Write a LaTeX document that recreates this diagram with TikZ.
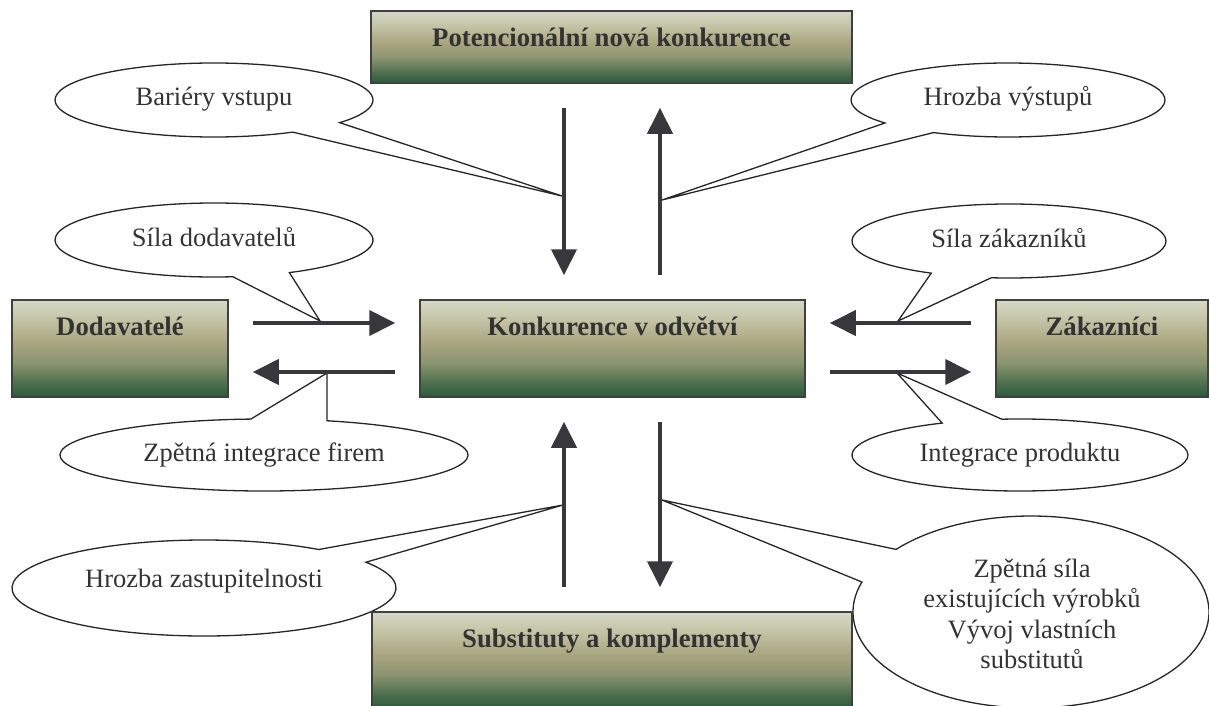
\documentclass[tikz,border=0pt]{standalone}
\usepackage{fontspec}
\setmainfont{Liberation Serif}
\usetikzlibrary{arrows.meta,calc}
\definecolor{ink}{HTML}{333333}
\definecolor{edge}{HTML}{404040}
\definecolor{flowc}{HTML}{38383C}
\definecolor{g0}{HTML}{2C5A3C}
\definecolor{g1}{HTML}{4F7050}
\definecolor{g2}{HTML}{8A9470}
\definecolor{g3}{HTML}{A8A57E}
\definecolor{g4}{HTML}{C4C4A6}
\definecolor{g5}{HTML}{D6D8C6}
% green-to-khaki-to-pale fill of the force boxes (path spans 25bp..75bp)
\pgfdeclareverticalshading{forceshade}{100bp}{%
  color(0bp)=(g0); color(25bp)=(g0); color(32.5bp)=(g1); color(42.5bp)=(g2);
  color(52.5bp)=(g3); color(65bp)=(g4); color(75bp)=(g5); color(100bp)=(g5)}
\begin{document}
\begin{tikzpicture}[x=1pt,y=-1pt,
  force/.style={draw=edge, line width=1.5pt, shading=forceshade, inner sep=0pt},
  title/.style={font=\fontsize{26.7}{30}\selectfont\bfseries, text=ink, anchor=base},
  flow/.style={draw=flowc, line width=4pt, -{Triangle[length=26pt,width=25pt]},
    shorten <=24pt, shorten >=24pt},
  bubble/.style={draw=black!85, line width=1.3pt, fill=white, line join=miter},
  bubtext/.style={font=\fontsize{26.5}{30.5}\selectfont, text=ink, align=center,
    inner sep=0pt},
  oneline/.style={text height=18pt, text depth=6pt}]
\useasboundingbox (0,0) rectangle (1209,706);

% callout centres
\coordinate (c1) at (214,100);
\coordinate (c2) at (1008,100);
\coordinate (c3) at (214,240);
\coordinate (c4) at (1009,241);
\coordinate (c5) at (264,455);
\coordinate (c6) at (1020,455);
\coordinate (c7) at (204,588);
\coordinate (c8) at (1031,612);

% pointer tips on the flows
\coordinate (t1) at (562,196);
\coordinate (t2) at (662,200);
\coordinate (t3) at (320,321);
\coordinate (t4) at (898,321);
\coordinate (t5) at (327,373);
\coordinate (t6) at (897,373);
\coordinate (t7) at (563,505);
\coordinate (t8) at (662,500);

% callout outlines: ellipse opened where the pointer joins it
\draw[bubble] ($(c1)+(60.3:159 and 37)$) arc[start angle=60.3, end angle=397.8, x radius=159, y radius=37] -- (t1) -- cycle;
\draw[bubble] ($(c2)+(141.6:157 and 37)$) arc[start angle=141.6, end angle=478.3, x radius=157, y radius=37] -- (t2) -- cycle;
\draw[bubble] ($(c3)+(83.2:159 and 37)$) arc[start angle=83.2, end angle=421.7, x radius=159, y radius=37] -- (t3) -- cycle;
\draw[bubble] ($(c4)+(119.7:157 and 37)$) arc[start angle=119.7, end angle=456.5, x radius=157, y radius=37] -- (t4) -- cycle;
\draw[bubble] ($(c5)+(-72:204 and 36)$) arc[start angle=-72, end angle=266.3, x radius=204, y radius=36] -- (t5) -- cycle;
\draw[bubble] ($(c6)+(263.8:168 and 36)$) arc[start angle=263.8, end angle=602.4, x radius=168, y radius=36] -- (t6) -- cycle;
\draw[bubble] ($(c7)+(-32.5:192 and 48)$) arc[start angle=-32.5, end angle=306.7, x radius=192, y radius=48] -- (t7) -- cycle;
\draw[bubble] ($(c8)+(220.7:178 and 96)$) arc[start angle=220.7, end angle=558.2, x radius=178, y radius=96] -- (t8) -- cycle;

% callout texts
\node[bubtext, oneline] (e1) at (c1) {Bariéry vstupu};
\node[bubtext, oneline] (e2) at (c2) {Hrozba výstupů};
\node[bubtext, oneline] (e3) at (c3) {Síla dodavatelů};
\node[bubtext, oneline] (e4) at (c4) {Síla zákazníků};
\node[bubtext, oneline] (e5) at (c5) {Zpětná integrace firem};
\node[bubtext, oneline] (e6) at (c6) {Integrace produktu};
\node[bubtext, oneline] (e7) at ($(c7)+(0,-7)$) {Hrozba zastupitelnosti};
\node[bubtext] (e8) at ($(c8)+(1,2)$) {Zpětná síla\\existujících výrobků\\Vývoj vlastních\\substitutů};

% forces
\node[force, minimum width=481pt, minimum height=72pt] (pot) at (611.5,47) {};
\node[force, minimum width=216pt, minimum height=97pt] (dod) at (120,348.5) {};
\node[force, minimum width=385pt, minimum height=97pt] (kon) at (612.5,348.5) {};
\node[force, minimum width=212pt, minimum height=97pt] (zak) at (1102,348.5) {};
\node[force, minimum width=480pt, minimum height=96pt] (sub) at (612,660) {};

\node[title] (potT) at ([yshift=-36pt]pot.north) {Potencionální nová konkurence};
\node[title] (dodT) at ([yshift=-36pt]dod.north) {Dodavatelé};
\node[title] (konT) at ([yshift=-36pt]kon.north) {Konkurence v odvětví};
\node[title] (zakT) at ([yshift=-36pt]zak.north) {Zákazníci};
\node[title] (subT) at ([yshift=-36pt]sub.north) {Substituty a komplementy};

% flow columns and rows
\coordinate (colL) at (564,0);
\coordinate (colR) at (660,0);
\coordinate (rowU) at (0,323);
\coordinate (rowD) at (0,372);

\draw[flow] (pot.south -| colL) -- (kon.north -| colL);
\draw[flow] (kon.north -| colR) -- (pot.south -| colR);
\draw[flow] (dod.east |- rowU) -- (kon.west |- rowU);
\draw[flow] (kon.west |- rowD) -- (dod.east |- rowD);
\draw[flow] (zak.west |- rowU) -- (kon.east |- rowU);
\draw[flow] (kon.east |- rowD) -- (zak.west |- rowD);
\draw[flow] (sub.north -| colL) -- (kon.south -| colL);
\draw[flow] (kon.south -| colR) -- (sub.north -| colR);
\end{tikzpicture}
\end{document}
